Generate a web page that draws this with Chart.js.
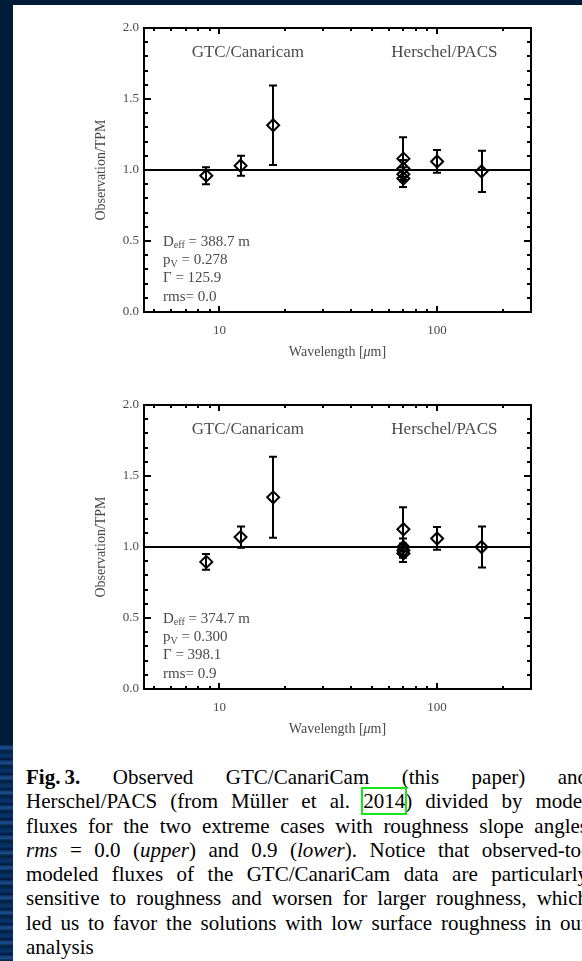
<!DOCTYPE html>
<html>
<head>
<meta charset="utf-8">
<script src="https://cdn.jsdelivr.net/npm/chart.js@4.4.1/dist/chart.umd.min.js"></script>
<style>
  html, body { margin: 0; padding: 0; }
  body {
    width: 582px; height: 961px; overflow: hidden; position: relative;
    background: #011c38;
    font-family: 'Liberation Serif', 'Times New Roman', serif;
  }
  #page { position: absolute; left: 13px; top: 5px; right: 0; bottom: 0; background: #fff; }
  #streaks {
    position: absolute; left: 0; top: 745px; width: 13px; height: 216px;
    background: repeating-linear-gradient(180deg, #0b2c5a 0px, #1b4f93 3px, #02203f 6px, #0a3570 11px, #01183a 15px);
  }
  canvas { position: absolute; left: 0; }
  #c1 { top: 0; }
  #c2 { top: 377px; }
  #caption {
    position: absolute; left: 26px; top: 765px; width: 562px;
    font-size: 21px; line-height: 24.3px; color: #000;
  }
  #caption .ln { text-align: justify; text-align-last: justify; white-space: nowrap; }
  #caption .cite { outline: 2px solid #19e619; outline-offset: 0px; }
</style>
</head>
<body>
<div id="page"></div>
<div id="streaks"></div>
<canvas id="c1" width="582" height="370"></canvas>
<canvas id="c2" width="582" height="370"></canvas>
<div id="caption">
  <div class="ln"><b>Fig.&#8201;3.</b> Observed GTC/CanariCam (this paper) and</div>
  <div class="ln">Herschel/PACS (from Müller et al. <span class="cite">2014</span>) divided by model</div>
  <div class="ln">fluxes for the two extreme cases with roughness slope angles</div>
  <div class="ln"><i>rms</i> = 0.0 (<i>upper</i>) and 0.9 (<i>lower</i>). Notice that observed-to-</div>
  <div class="ln">modeled fluxes of the GTC/CanariCam data are particularly</div>
  <div class="ln">sensitive to roughness and worsen for larger roughness, which</div>
  <div class="ln">led us to favor the solutions with low surface roughness in our</div>
  <div>analysis</div>
</div>
<script>
// axis ranges and ticks
const xLimits = [4.5, 270];
const yLimits = [0, 2];
const xMajorTicks = [10, 100];
const xMinorTicks = [5, 6, 7, 8, 9, 20, 30, 40, 50, 60, 70, 80, 90, 200];
const yMajorTicks = [0, 0.5, 1.0, 1.5, 2.0];
const yMinorTicks = [0.1, 0.2, 0.3, 0.4, 0.6, 0.7, 0.8, 0.9, 1.1, 1.2, 1.3, 1.4, 1.6, 1.7, 1.8, 1.9];
const refLevel = 1.0;

// wavelengths (micron)
const gtcWave = [8.7, 12.5, 17.65];
const pacsWave = [70, 70, 70, 70, 100, 160];

// upper panel, rms = 0.0
const gtcRatioUpper = [0.96, 1.03, 1.315];
const gtcErrUpper = [0.06, 0.07, 0.28];
const pacsRatioUpper = [1.08, 1.01, 0.97, 0.94, 1.06, 0.99];
const pacsErrUpper = [0.15, 0.06, 0.05, 0.06, 0.08, 0.145];
const paramsUpper = [["D", "eff", " = 388.7 m"], ["p", "V", " = 0.278"], ["Γ = 125.9", "", ""], ["rms= 0.0", "", ""]];

// lower panel, rms = 0.9
const gtcRatioLower = [0.895, 1.07, 1.35];
const gtcErrLower = [0.055, 0.075, 0.285];
const pacsRatioLower = [1.125, 1.0, 0.975, 0.955, 1.06, 1.0];
const pacsErrLower = [0.155, 0.06, 0.05, 0.06, 0.08, 0.145];
const paramsLower = [["D", "eff", " = 374.7 m"], ["p", "V", " = 0.300"], ["Γ = 398.1", "", ""], ["rms= 0.9", "", ""]];

const FONT = "'Liberation Serif', 'Times New Roman', serif";
const GREY = "#4a4a4a";
Chart.defaults.font.family = FONT;

// frame, inward ticks, error bars and in-plot notes
const paperAxes = {
  id: "paperAxes",
  beforeDatasetsDraw(chart) {
    const { ctx, scales: { x, y } } = chart;
    ctx.save();
    ctx.strokeStyle = "#000";
    ctx.lineWidth = 2;
    chart.data.datasets.forEach(ds => {
      if (!ds.errors) return;
      ds.data.forEach((p, i) => {
        const px = Math.round(x.getPixelForValue(p.x));
        const top = y.getPixelForValue(p.y + ds.errors[i]);
        const bot = y.getPixelForValue(p.y - ds.errors[i]);
        ctx.beginPath();
        ctx.moveTo(px, top); ctx.lineTo(px, bot);
        ctx.moveTo(px - 4, top); ctx.lineTo(px + 4, top);
        ctx.moveTo(px - 4, bot); ctx.lineTo(px + 4, bot);
        ctx.stroke();
      });
    });
    ctx.restore();
  },
  afterDraw(chart, args, opts) {
    const { ctx, chartArea: a, scales: { x, y } } = chart;
    ctx.save();
    ctx.strokeStyle = "#000";
    ctx.lineWidth = 2;
    ctx.strokeRect(a.left, a.top, a.right - a.left, a.bottom - a.top);

    ctx.beginPath();
    const yTick = (v, len) => {
      const py = Math.round(y.getPixelForValue(v));
      ctx.moveTo(a.left, py); ctx.lineTo(a.left + len, py);
      ctx.moveTo(a.right, py); ctx.lineTo(a.right - len, py);
    };
    const xTick = (v, len) => {
      const px = Math.round(x.getPixelForValue(v));
      ctx.moveTo(px, a.bottom); ctx.lineTo(px, a.bottom - len);
      ctx.moveTo(px, a.top); ctx.lineTo(px, a.top + len);
    };
    yMajorTicks.forEach(v => yTick(v, 7));
    yMinorTicks.forEach(v => yTick(v, 4));
    xMajorTicks.forEach(v => xTick(v, 6));
    xMinorTicks.forEach(v => xTick(v, 3));
    ctx.stroke();

    // instrument labels
    ctx.fillStyle = GREY;
    ctx.textBaseline = "middle";
    ctx.textAlign = "center";
    ctx.font = "17px " + FONT;
    ctx.fillText("GTC/Canaricam", x.getPixelForValue(13.5), y.getPixelForValue(1.83));
    ctx.fillText("Herschel/PACS", x.getPixelForValue(108), y.getPixelForValue(1.83));

    // model parameters
    ctx.textAlign = "left";
    const px = x.getPixelForValue(5.5);
    opts.params.forEach((line, i) => {
      const py = y.getPixelForValue(0.495) + i * 18.3;
      ctx.font = "15px " + FONT;
      ctx.fillText(line[0], px, py);
      let w = ctx.measureText(line[0]).width;
      ctx.font = "10px " + FONT;
      ctx.fillText(line[1], px + w, py + 4);
      w += ctx.measureText(line[1]).width;
      ctx.font = "15px " + FONT;
      ctx.fillText(line[2], px + w, py);
    });

    // x title with italic mu
    const tx = (a.left + a.right) / 2;
    const ty = a.bottom + 40;
    const p1 = "Wavelength [", p2 = "μ", p3 = "m]";
    ctx.font = "14px " + FONT;
    const w1 = ctx.measureText(p1).width, w3 = ctx.measureText(p3).width;
    ctx.font = "italic 14px " + FONT;
    const w2 = ctx.measureText(p2).width;
    let sx = tx - (w1 + w2 + w3) / 2;
    ctx.font = "14px " + FONT;
    ctx.fillText(p1, sx, ty);
    ctx.font = "italic 14px " + FONT;
    ctx.fillText(p2, sx + w1, ty);
    ctx.font = "14px " + FONT;
    ctx.fillText(p3, sx + w1 + w2, ty);
    ctx.restore();
  }
};

function makeChart(id, gtcRatio, gtcErr, pacsRatio, pacsErr, params) {
  const diamond = {
    showLine: false,
    pointStyle: "rectRot",
    pointRadius: 6,
    borderColor: "#000",
    borderWidth: 2,
    backgroundColor: "rgba(0,0,0,0)"
  };
  return new Chart(document.getElementById(id), {
    type: "scatter",
    data: {
      datasets: [
        {
          label: "TPM",
          type: "line",
          showLine: true,
          data: xLimits.map(v => ({ x: v, y: refLevel })),
          borderColor: "#000",
          borderWidth: 2,
          pointRadius: 0
        },
        Object.assign({
          label: "GTC/CanariCam",
          data: gtcWave.map((w, i) => ({ x: w, y: gtcRatio[i] })),
          errors: gtcErr
        }, diamond),
        Object.assign({
          label: "Herschel/PACS",
          data: pacsWave.map((w, i) => ({ x: w, y: pacsRatio[i] })),
          errors: pacsErr
        }, diamond)
      ]
    },
    options: {
      responsive: false,
      animation: false,
      events: [],
      layout: { padding: { top: 28, right: 51, bottom: 0, left: 0 } },
      plugins: {
        legend: { display: false },
        tooltip: { enabled: false },
        paperAxes: { params: params }
      },
      scales: {
        x: {
          type: "logarithmic",
          min: xLimits[0],
          max: xLimits[1],
          afterBuildTicks: s => { s.ticks = xMajorTicks.map(v => ({ value: v })); },
          afterFit: s => { s.height = 58; },
          grid: { display: false, drawTicks: false },
          border: { display: false },
          ticks: {
            color: GREY,
            font: { size: 13 },
            padding: 11,
            maxRotation: 0,
            autoSkip: false,
            callback: v => String(v)
          },
          title: { display: false }
        },
        y: {
          min: yLimits[0],
          max: yLimits[1],
          afterBuildTicks: s => { s.ticks = yMajorTicks.map(v => ({ value: v })); },
          afterFit: s => { s.width = 144; },
          grid: { display: false, drawTicks: false },
          border: { display: false },
          ticks: {
            color: GREY,
            font: { size: 13 },
            padding: 5,
            callback: v => Number(v).toFixed(1)
          },
          title: {
            display: true,
            text: "Observation/TPM",
            color: GREY,
            font: { size: 14 },
            padding: { top: 93, bottom: 0 }
          }
        }
      }
    },
    plugins: [paperAxes]
  });
}

makeChart("c1", gtcRatioUpper, gtcErrUpper, pacsRatioUpper, pacsErrUpper, paramsUpper);
makeChart("c2", gtcRatioLower, gtcErrLower, pacsRatioLower, pacsErrLower, paramsLower);
</script>
</body>
</html>
